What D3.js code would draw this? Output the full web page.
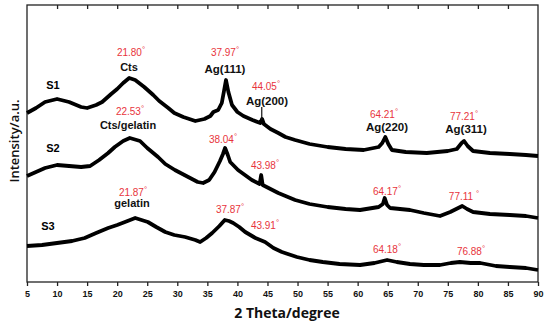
<!DOCTYPE html>
<html><head><meta charset="utf-8">
<script src="https://cdn.jsdelivr.net/npm/d3@7"></script>
<style>body{margin:0;background:#fff}svg{display:block}</style>
</head><body><svg id="c" width="550" height="328"></svg>
<script>
// 2θ (degree) and relative intensity (a.u.)
const s1Theta = [5,6.5,8,10,12,14,15,16.5,17.5,19,20,21,22,23,24.5,26,27,28.5,29.5,31,33,34.5,35.5,36,36.8,37.4,37.8,38.1,38.5,39.1,40,41,42.5,43.8,44.1,44.4,45.5,46.8,48,49.6,52,55,58,61,63.5,64.1,64.6,65.1,65.7,68,71.5,75,76.5,77.3,77.7,78.3,79.2,82,85.3,88,90];
const s1Int   = [169,174,180,183,180,175,174,177,180,188,193,199,204,202,195,187,181,174,169,165,161,163,166,170,172,179,192,202,190,177,170,166,162,159,163,158,153,149,145,142,138,135,133,132,135,139,145,138,132,130,129,131,133,139,141,136,131,129,128,127,126];
const s2Theta = [5,6.5,8,10,12,14,15.5,17,18.5,19.6,21,22.1,23.8,25,26.8,28,29.6,31.5,33.4,34.3,35.3,36.2,37.1,37.6,37.95,38.4,38.8,40.1,42.4,43.7,43.95,44.2,46.8,49.6,52,55,58,60.4,63.5,64.2,64.5,64.9,65.4,68.7,71,73.7,75.4,76.4,77.4,78.2,79.2,82,85.3,88,90];
const s2Int   = [106,110,114,117,116,115,116,122,129,135,141,144,141,134,125,118,112,106,100,99,102,110,121,128,134,127,120,112,102,98,107,97,89,82,78,75,73,72,75,78,84,77,74,72,69,66,70,73,76,73,70,68,67,66,64];
const s3Theta = [5,7.5,10,12.5,14.6,16.5,18.5,20,21.3,23,25.1,26.5,28,29.5,31.3,33,33.8,34.8,35.8,37,37.9,38.6,39.3,40.3,41.3,43,44.6,46,47.4,49.9,52,54.2,57,60.4,62.8,64.9,66.5,68.7,71,73.7,75.5,77,78.8,80.4,83,85.3,88,90];
const s3Int   = [36,37,39,41,44,49,54,57,60,64,60,55,50,47,45,42,40,44,49,56,62,61,59,55,50,44,40,34,30,25,22,20,18,17,19,22,20,18,17,17,19,20,19,19,16,15,14,12];
const xTicks = [5,10,15,20,25,30,35,40,45,50,55,60,65,70,75,80,85,90];
const sampleNames = ["S1","S2","S3"];
const peakLabels = ["21.80","37.97","44.05","64.21","77.21","22.53","38.04","43.98","64.17","77.11 ","21.87","37.87","43.91","64.18","76.88"];
const phaseLabels = ["Cts","Ag(111)","Ag(200)","Ag(220)","Ag(311)","Cts/gelatin","gelatin"];

const svg = d3.select("#c");
const m = {l:27, t:5, w:511, h:277};
const x = d3.scaleLinear().domain([5,90]).range([m.l, m.l+m.w]);
const y = d3.scaleLinear().domain([0,277]).range([m.t+m.h, m.t]);

svg.append("rect").attr("x",m.l).attr("y",m.t).attr("width",m.w).attr("height",m.h)
  .attr("fill","none").attr("stroke","#222").attr("stroke-width",1.3);

const gBottom = svg.append("g").attr("transform",`translate(0,${m.t+m.h})`)
  .call(d3.axisBottom(x).tickValues(xTicks).tickSize(4).tickPadding(5));
gBottom.select(".domain").remove();
gBottom.selectAll("line").attr("stroke","#222").attr("stroke-width",1.3);
gBottom.selectAll("text").attr("font-family","Liberation Sans, Arial, sans-serif")
  .attr("font-size",9).attr("font-weight","bold").attr("fill","#111");

const gTop = svg.append("g").attr("transform",`translate(0,${m.t})`)
  .call(d3.axisTop(x).tickValues(xTicks.slice(1,-1)).tickSize(-4).tickFormat(""));
gTop.select(".domain").remove();
gTop.selectAll("line").attr("stroke","#222").attr("stroke-width",1.3);

const line = d3.line().x(d=>x(d[0])).y(d=>y(d[1]));
const series = [[s1Theta,s1Int],[s2Theta,s2Int],[s3Theta,s3Int]];
series.forEach(([t,v])=>{
  const pts = t.map((d,i)=>[d,v[i]]);
  svg.append("path").datum(pts).attr("d",line).attr("fill","none")
    .attr("stroke","#000").attr("stroke-width",3.8).attr("stroke-linejoin","round");
});

const ff = "Liberation Sans, Arial, sans-serif";
[[53,89],[53,152],[48,230]].forEach((p,i)=>{
  svg.append("text").attr("x",p[0]).attr("y",p[1]).attr("text-anchor","middle")
    .attr("font-family",ff).attr("font-size",11).attr("font-weight","bold").text(sampleNames[i]);
});

const redPos = [[131,56],[225,56],[266,90],[384,118],[464,120],[130,115],[223,143],[265,169],[387,195],[464,200],[133,196],[230,213],[265,229],[387,253],[471,255]];
peakLabels.forEach((s,i)=>{
  const t = svg.append("text").attr("x",redPos[i][0]).attr("y",redPos[i][1]).attr("text-anchor","middle")
    .attr("font-family",ff).attr("font-size",10).attr("fill","#e8343c");
  t.append("tspan").text(s);
  t.append("tspan").attr("font-size",8).attr("dy",-4).text("°");
});

const phasePos = [[129,71,11],[225,73,11.5],[267,105,11.5],[387,131,11.5],[466,133,11.5],[128,129,11],[132,207,11]];
phaseLabels.forEach((s,i)=>{
  const p = phasePos[i];
  svg.append("text").attr("x",p[0]).attr("y",p[1]).attr("text-anchor","middle")
    .attr("font-family",ff).attr("font-size",p[2]).attr("font-weight","bold").attr("fill","#111").text(s);
});
svg.append("line").attr("x1",x(44.05)).attr("x2",x(44.05)).attr("y1",107).attr("y2",120)
  .attr("stroke","#111").attr("stroke-width",1.2);

svg.append("text").attr("x",287).attr("y",318).attr("text-anchor","middle")
  .attr("font-family","Open Sans, sans-serif").attr("font-size",14).attr("font-weight","bold")
  .attr("fill","#111").text("2 Theta/degree");
svg.append("text").attr("transform","translate(19,141) rotate(-90)").attr("text-anchor","middle")
  .attr("font-family","Open Sans, sans-serif").attr("font-size",13).attr("font-weight","600")
  .attr("fill","#111").text("Intensity/a.u.");
</script></body></html>
